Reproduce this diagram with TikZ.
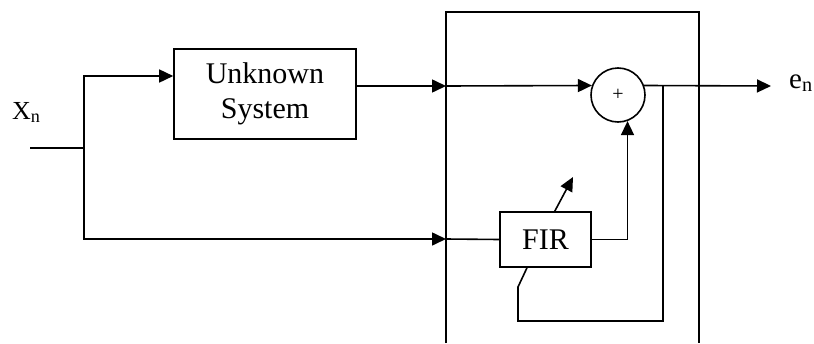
\documentclass[tikz,border=0pt]{standalone}
\usepackage{fontspec}
\setmainfont{Liberation Serif}
\usetikzlibrary{arrows.meta,positioning,calc}

\begin{document}
\begin{tikzpicture}[x=1pt,y=-1pt,
                    wire/.style={line width=1.6pt, black},
                    thinwire/.style={line width=1.2pt, black},
                    sig/.style={wire, -{Triangle[length=14pt,width=13pt]}},
                    block/.style={draw, line width=1.6pt, align=center, inner sep=0pt,
                                  font=\fontsize{30}{35}\selectfont},
                    adder/.style={circle, draw, line width=1.6pt, minimum size=54pt, inner sep=0pt},
                    lbl/.style={font=\fontsize{29}{30}\selectfont, inner sep=0pt},
                   ]
\useasboundingbox (0,0) rectangle (814,343);

% blocks
\node[block, minimum width=182pt, minimum height=90pt] (unk) at (265,94) {Unknown\\System};
\node[block, minimum width=91pt, minimum height=55pt] (fir) at (545.5,239.5) {FIR};
\node[adder] (sum) at (618,95) {\fontsize{20}{20}\selectfont +};

% the open frame round the adaptive part
\draw[wire] (446,343) -- (446,12) -- (699,12) -- (699,343);

% points on the wires
\coordinate (in) at (30,148);
\coordinate (br) at (84,148);
\coordinate (top) at (84,76);
\coordinate (bot) at (84,239);
\coordinate (mid) at (338,239);
\coordinate (fin) at (446,239);
\coordinate (uout) at (unk.east |- 0,86);
\coordinate (sin) at (446,86);
\coordinate (tap) at (663,86);
\coordinate (out) at (771,86);

\node[lbl, anchor=base west, font=\fontsize{26}{28}\selectfont] (xn) at (12,119) {X\textsubscript{n}};
\node[lbl, anchor=base west] (en) at (789,88) {e\textsubscript{n}};

% input splits to both paths
\draw[wire] (in) -- (br);
\draw[sig] (br) -- (top) -- (unk.west |- top);
\draw[thinwire] (br) -- (bot) -- (mid);
\draw[sig] (mid) -- (fin);
\draw[wire] (fin) -- (fir.west);

% plant output into the adder
\draw[sig] (uout) -- (sin);
\draw[sig] (sin) -- (sum.160);
\draw[sig] (fir.east) -| (sum.-70);
\draw[sig] (sum.20) -- (out);

% error fed back to the filter
\draw[wire] (tap) -- (663,321) -- (518,321) -- (518,287)
            -- ($(fir.south west)!0.3!(fir.south east)$);
\draw[sig] ($(fir.north west)!0.6!(fir.north east)$) -- (573,177);

\end{tikzpicture}
\end{document}
